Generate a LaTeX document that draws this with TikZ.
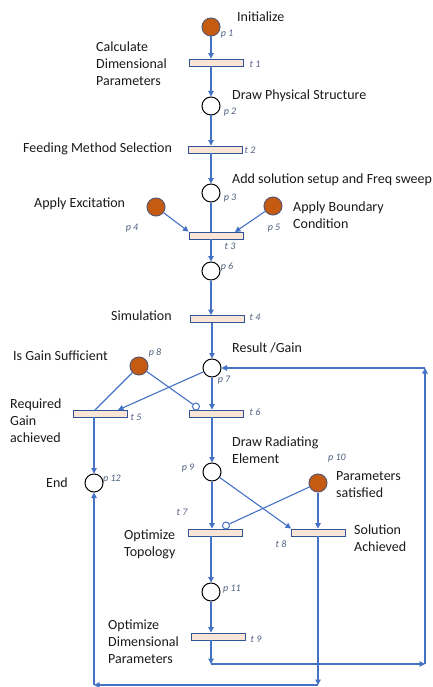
\documentclass[tikz,border=0pt]{standalone}
\usepackage{fontspec}
\setmainfont{Carlito}
\usetikzlibrary{arrows.meta}
\definecolor{lineBlue}{HTML}{4472C4}
\definecolor{rectBlue}{HTML}{2F5597}
\definecolor{peach}{HTML}{FBE5D6}
\definecolor{tokenOrange}{HTML}{C55A11}
\definecolor{labelGray}{HTML}{4F5F80}
\definecolor{ink}{HTML}{1A1A1A}
\begin{document}
\begin{tikzpicture}[x=1pt,y=-1pt,
  place/.style={circle,draw=black,line width=1pt,fill=white,minimum size=18pt,inner sep=0pt},
  token/.style={place,draw=rectBlue!70!tokenOrange,fill=tokenOrange},
  trans/.style={rectangle,draw=rectBlue,line width=0.9pt,fill=peach,minimum width=54pt,minimum height=7pt,inner sep=0pt},
  inhib/.style={circle,draw=lineBlue,line width=1pt,fill=white,minimum size=7pt,inner sep=0pt},
  link/.style={draw=lineBlue,line width=1.1pt},
  arc/.style={link,-{Triangle[length=5.5pt,width=5.5pt]}},
  lbl/.style={font=\fontsize{10}{11}\selectfont\itshape,text=labelGray,inner sep=0pt},
  txt/.style={font=\fontsize{14}{17}\selectfont,text=ink,align=left,anchor=west,inner sep=0pt}]
\useasboundingbox (0,0) rectangle (433,687);

% places
\node[token] (p1) at (211,27) {};
\node[place] (p2) at (211,106) {};
\node[place] (p3) at (211,193) {};
\node[token] (p4) at (156,207) {};
\node[token] (p5) at (273,206) {};
\node[place] (p6) at (211,271) {};
\node[place] (p7) at (212,368) {};
\node[token] (p8) at (139,366) {};
\node[place] (p9) at (212,472) {};
\node[token] (p10) at (318,483) {};
\node[place] (p11) at (211,592) {};
\node[place] (p12) at (94,483) {};

% transitions
\node[trans] (t1) at (216,62.5) {};
\node[trans] (t2) at (215.5,149.5) {};
\node[trans] (t3) at (216,235.5) {};
\node[trans] (t4) at (217,319) {};
\node[trans] (t5) at (100,413.5) {};
\node[trans] (t6) at (216,413.5) {};
\node[trans] (t7) at (215,532.5) {};
\node[trans] (t8) at (318.5,532.5) {};
\node[trans] (t9) at (218.5,636.5) {};

% inhibitor ends
\node[inhib] (i6) at (196,406.5) {};
\node[inhib] (i7) at (226,525.5) {};

% helper points
\coordinate (c35) at (235,232);
\coordinate (c57) at (118,410);
\coordinate (c85) at (95,410);
\coordinate (a1) at (211,664);
\coordinate (a2) at (425,664);
\coordinate (a3) at (425,368);
\coordinate (b1) at (318,685);
\coordinate (b2) at (94,685);

% arcs
\draw[arc] (p1) -- (p1 |- t1.north);
\draw[arc] (p2 |- t1.south) -- (p2);
\draw[arc] (p2) -- (p2 |- t2.north);
\draw[arc] (p3 |- t2.south) -- (p3);
\draw[link] (p3) -- (p3 |- t3.north);
\draw[arc] (p4) -- (t3.north west);
\draw[arc] (p5) -- (c35);
\draw[arc] (p6 |- t3.south) -- (p6);
\draw[arc] (p6) -- (p6 |- t4.north);
\draw[arc] (p7 |- t4.south) -- (p7);
\draw[arc] (p7) -- (c57);
\draw[link] (p8) -- (c85);
\draw[link] (p8) -- (i6);
\draw[arc] (p7) -- (p7 |- t6.north);
\draw[arc] (p12 |- t5.south) -- (p12);
\draw[arc] (p9 |- t6.south) -- (p9);
\draw[arc] (p9) -- (p9 |- t7.north);
\draw[arc] (p9) -- (t8.north west);
\draw[link] (p10) -- (i7);
\draw[arc] (p10) -- (p10 |- t8.north);
\draw[arc] (p11 |- t7.south) -- (p11);
\draw[arc] (p11) -- (p11 |- t9.north);
\draw[arc] (p11 |- t9.south) -- (a1);
\draw[arc] (a1) -- (a2);
\draw[arc] (a2) -- (a3);
\draw[arc] (a3) -- (p7);
\draw[arc] (p10 |- t8.south) -- (b1);
\draw[arc] (b1) -- (b2);
\draw[arc] (b2) -- (p12);

% place and transition labels
\node[lbl] (lp1) at (227,34) {p 1};
\node[lbl] (lt1) at (255,64) {t 1};
\node[lbl] (lp2) at (230,112) {p 2};
\node[lbl] (lt2) at (250,150) {t 2};
\node[lbl] (lp3) at (230,198) {p 3};
\node[lbl] (lp4) at (132,228) {p 4};
\node[lbl] (lp5) at (274,228) {p 5};
\node[lbl] (lt3) at (230,246) {t 3};
\node[lbl] (lp6) at (227,267) {p 6};
\node[lbl] (lt4) at (255,317) {t 4};
\node[lbl] (lp7) at (224,380) {p 7};
\node[lbl] (lp8) at (155,353) {p 8};
\node[lbl] (lt5) at (136,417) {t 5};
\node[lbl] (lt6) at (255,412) {t 6};
\node[lbl] (lp9) at (188,468) {p 9};
\node[lbl] (lp10) at (337,458) {p 10};
\node[lbl] (lp12) at (112,479) {p 12};
\node[lbl] (lt7) at (182,512) {t 7};
\node[lbl] (lt8) at (281,544) {t 8};
\node[lbl] (lp11) at (232,589) {p 11};
\node[lbl] (lt9) at (256,639) {t 9};

% descriptions
\node[txt] (d1) at (237,17) {Initialize};
\node[txt] (d2) at (96,64) {Calculate\\Dimensional\\Parameters};
\node[txt] (d3) at (232,96) {Draw Physical Structure};
\node[txt] (d4) at (23,149) {Feeding Method Selection};
\node[txt] (d5) at (232,180) {Add solution setup and Freq sweep};
\node[txt] (d6) at (34,204) {Apply Excitation};
\node[txt] (d7) at (293,215.5) {Apply Boundary\\Condition};
\node[txt] (d8) at (111,316) {Simulation};
\node[txt] (d9) at (13,356) {Is Gain Sufficient};
\node[txt] (d10) at (232,348) {Result /Gain};
\node[txt] (d11) at (10,421) {Required\\Gain\\achieved};
\node[txt] (d12) at (232,450) {Draw Radiating\\Element};
\node[txt] (d13) at (336,485) {Parameters\\satisfied};
\node[txt] (d14) at (46,483) {End};
\node[txt] (d15) at (124,544) {Optimize\\Topology};
\node[txt] (d16) at (354,538.5) {Solution\\Achieved};
\node[txt] (d17) at (108,641.5) {Optimize\\Dimensional\\Parameters};
\end{tikzpicture}
\end{document}
